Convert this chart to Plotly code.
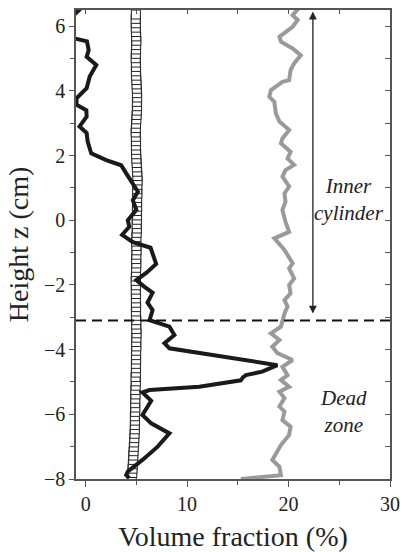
import plotly.graph_objects as go

# ---- data ----
square_z = [-7.95, -7.815, -7.68, -7.545, -7.41, -7.275, -7.14, -7.005, -6.87, -6.735,
            -6.6, -6.465, -6.33, -6.195, -6.06, -5.925, -5.79, -5.655, -5.52, -5.385,
            -5.25, -5.115, -4.98, -4.845, -4.71, -4.575, -4.44, -4.305, -4.17, -4.035,
            -3.9, -3.765, -3.63, -3.495, -3.36, -3.225, -3.09, -2.955, -2.82, -2.685,
            -2.55, -2.415, -2.28, -2.145, -2.01, -1.875, -1.74, -1.605, -1.47, -1.335,
            -1.2, -1.065, -0.93, -0.795, -0.66, -0.525, -0.39, -0.255, -0.12, 0.015,
            0.15, 0.285, 0.42, 0.555, 0.69, 0.825, 0.96, 1.095, 1.23, 1.365,
            1.5, 1.635, 1.77, 1.905, 2.04, 2.175, 2.31, 2.445, 2.58, 2.715,
            2.85, 2.985, 3.12, 3.255, 3.39, 3.525, 3.66, 3.795, 3.93, 4.065,
            4.2, 4.335, 4.47, 4.605, 4.74, 4.875, 5.01, 5.145, 5.28, 5.415,
            5.55, 5.685, 5.82, 5.955, 6.09, 6.225, 6.36]
square_x = [4.55, 4.6, 4.62, 4.65, 4.68, 4.7, 4.72, 4.75, 4.78, 4.8,
            4.82, 4.85, 4.85, 4.87, 4.85, 4.88, 4.9, 4.88, 4.9, 4.92,
            4.9, 4.93, 4.95, 4.92, 4.95, 4.97, 4.95, 4.98, 4.96, 4.98,
            5.0, 4.98, 5.0, 5.02, 5.0, 4.98, 5.0, 4.97, 4.95, 4.98,
            4.96, 4.95, 4.97, 4.94, 4.96, 4.93, 4.95, 4.97, 4.98, 5.0,
            4.98, 5.0, 5.02, 5.0, 4.98, 5.0, 5.03, 5.05, 5.03, 5.05,
            5.07, 5.05, 5.08, 5.06, 5.08, 5.1, 5.08, 5.1, 5.12, 5.1,
            5.08, 5.05, 5.03, 5.0, 4.98, 4.97, 4.95, 4.97, 4.95, 4.93,
            4.95, 4.97, 5.0, 5.02, 5.05, 5.07, 5.05, 5.08, 5.06, 5.04,
            5.02, 5.0, 4.98, 4.95, 4.97, 4.95, 4.93, 4.95, 4.97, 4.98,
            5.0, 4.98, 4.96, 4.94, 4.95, 4.93, 4.95]

black_x = [-0.3, -1.3, -2.0, -1.1, 0.13, 0.3, 0.1, 1.05, 0.4, 0.1,
           -0.9, -0.9, 0.07, 0.1, -0.6, 0.1, 0.2, 0.55, 2.03, 3.5,
           4.0, 4.8, 5.15, 4.65, 5.0, 4.16, 4.3, 3.6, 4.66, 6.4,
           6.95, 6.0, 5.0, 5.8, 6.6, 6.1, 6.6, 6.3, 8.26, 8.75,
           7.77, 8.26, 10.55, 15.1, 18.9, 17.4, 15.8, 15.5, 15.3, 11.2,
           6.3, 5.6, 6.46, 5.6, 6.46, 8.26, 7.1, 5.6, 4.16, 4.0, 4.3]
black_z = [6.6, 6.3, 5.9, 5.62, 5.53, 5.26, 5.05, 4.8, 4.44, 4.08,
           3.77, 3.57, 3.4, 3.2, 2.9, 2.7, 2.43, 2.07, 1.86, 1.7,
           1.45, 1.09, 0.88, 0.62, 0.32, 0.0, -0.2, -0.45, -0.68, -0.85,
           -1.35, -1.62, -1.85, -2.06, -2.24, -2.55, -2.78, -3.09, -3.29, -3.55,
           -3.8, -3.96, -4.07, -4.27, -4.48, -4.68, -4.79, -4.86, -4.95, -5.15,
           -5.25, -5.32, -5.58, -6.02, -6.28, -6.59, -7.0, -7.41, -7.77, -7.88, -7.97]

gray_x = [21.0, 20.4, 20.9, 20.4, 19.1, 19.25, 20.4, 21.2, 20.55, 20.2,
          20.06, 19.4, 18.26, 18.1, 18.6, 18.75, 19.1, 20.06, 19.4, 19.25,
          20.2, 19.9, 20.55, 19.7, 19.4, 20.06, 19.6, 19.7, 19.4, 19.7,
          20.06, 18.6, 19.6, 20.06, 20.4, 20.06, 20.55, 20.06, 20.2, 19.6,
          19.9, 19.6, 19.4, 19.25, 18.26, 19.1, 18.4, 18.9, 20.4, 19.4,
          19.9, 19.25, 20.06, 19.1, 19.6, 19.1, 19.6, 19.4, 20.2, 20.06,
          19.25, 18.4, 19.1, 19.25, 15.3]
gray_z = [6.55, 6.34, 6.19, 5.98, 5.67, 5.52, 5.31, 5.1, 4.85, 4.64,
          4.33, 4.28, 4.02, 3.82, 3.66, 3.3, 3.05, 2.79, 2.53, 2.38,
          2.12, 1.91, 1.71, 1.55, 1.35, 1.04, 0.83, 0.57, 0.32, -0.05,
          -0.36, -0.56, -0.92, -1.13, -1.33, -1.49, -1.8, -2.0, -2.26, -2.47,
          -2.67, -2.88, -3.09, -3.29, -3.5, -3.7, -3.91, -4.11, -4.32, -4.53,
          -4.79, -4.94, -5.15, -5.3, -5.5, -5.76, -5.92, -6.18, -6.38, -6.64,
          -6.95, -7.41, -7.62, -7.88, -8.0]

x_range = [-0.95, 30]
y_range = [-8, 6.5]
dead_zone_z = -3.1
arrow_x = 22.4
arrow_top, arrow_bottom = 6.45, -2.93

FONT = "Liberation Serif"
AX = "#555555"
TXT = "#222222"

fig = go.Figure()
fig.add_trace(go.Scatter(x=square_x, y=square_z, mode="markers",
                         marker=dict(symbol="square", size=9, color="white",
                                     line=dict(color="#222222", width=1)),
                         showlegend=False, hoverinfo="skip"))
fig.add_trace(go.Scatter(x=gray_x, y=gray_z, mode="lines",
                         line=dict(color="#9a9a9a", width=4), showlegend=False))
fig.add_trace(go.Scatter(x=black_x, y=black_z, mode="lines",
                         line=dict(color="#1a1a1a", width=4), showlegend=False))
# invisible trace to activate mirror axes
fig.add_trace(go.Scatter(x=[10], y=[0], xaxis="x2", yaxis="y2", mode="markers",
                         marker=dict(opacity=0), showlegend=False, hoverinfo="skip"))

fig.add_shape(type="line", xref="x domain", x0=0, x1=1, yref="y",
              y0=dead_zone_z, y1=dead_zone_z,
              line=dict(color="#111111", width=2, dash="10px,6px"))

fig.add_annotation(x=arrow_x, y=arrow_top, ax=arrow_x, ay=arrow_bottom,
                   xref="x", yref="y", axref="x", ayref="y", text="",
                   showarrow=True, arrowhead=2, arrowside="end+start",
                   arrowsize=1.2, arrowwidth=1.3, arrowcolor="#222222")
fig.add_annotation(x=26.0, y=0.65, xref="x", yref="y", text="<i>Inner</i><br><i>cylinder</i>",
                   showarrow=False, font=dict(family=FONT, size=21, color=TXT),
                   align="center", xanchor="center", yanchor="middle")
fig.add_annotation(x=25.4, y=-5.9, xref="x", yref="y", text="<i>Dead</i><br><i>zone</i>",
                   showarrow=False, font=dict(family=FONT, size=21, color=TXT),
                   align="center", xanchor="center", yanchor="middle")

fig.update_layout(
    width=402, height=552,
    margin=dict(l=76, r=12, t=10, b=73, autoexpand=False),
    paper_bgcolor="white", plot_bgcolor="white",
    font=dict(family=FONT, color=TXT),
    xaxis=dict(range=x_range, showgrid=False, zeroline=False, showline=True, automargin=False,
               linecolor=AX, linewidth=1.5, ticks="outside", ticklen=6, tickwidth=1.2,
               tickcolor=AX, tick0=0, dtick=10,
               minor=dict(dtick=5, ticks="outside", ticklen=4, tickcolor=AX, tickwidth=1.2),
               tickfont=dict(size=20, family=FONT, color=TXT),
               title=dict(text="Volume fraction (%)", font=dict(size=28, family=FONT, color=TXT),
                          standoff=20)),
    yaxis=dict(range=y_range, showgrid=False, zeroline=False, showline=True, automargin=False,
               linecolor=AX, linewidth=1.5, ticks="outside", ticklen=5, tickwidth=1.2,
               tickcolor=AX, tick0=0, dtick=2,
               minor=dict(dtick=1, ticks="outside", ticklen=4, tickcolor=AX, tickwidth=1.2),
               tickfont=dict(size=20, family=FONT, color=TXT),
               title=dict(text="Height z (cm)", font=dict(size=28, family=FONT, color=TXT),
                          standoff=7)),
    xaxis2=dict(range=x_range, overlaying="x", side="top", anchor="y", showgrid=False,
                automargin=False, zeroline=False, showline=True, linecolor=AX, linewidth=1.5,
                ticks="inside", ticklen=4, tickwidth=1.2, tickcolor=AX, tick0=0, dtick=5,
                showticklabels=False),
    yaxis2=dict(range=y_range, overlaying="y", side="right", anchor="x", showgrid=False,
                automargin=False, zeroline=False, showline=True, linecolor=AX, linewidth=1.5,
                ticks="inside", ticklen=5, tickwidth=1.2, tickcolor=AX, tick0=0, dtick=1,
                showticklabels=False),
)

fig.write_html("out.html")
